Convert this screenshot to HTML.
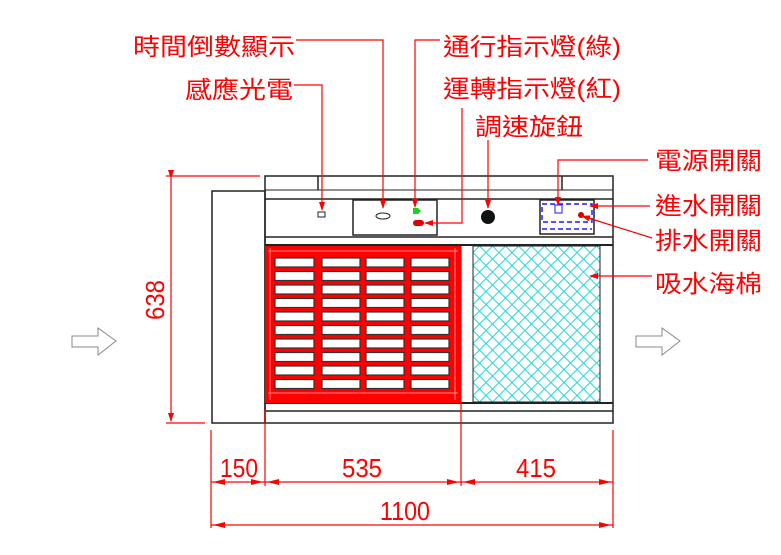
<!DOCTYPE html>
<html><head><meta charset="utf-8"><style>
html,body{margin:0;padding:0;background:#fff;}
svg{display:block;}
.t{font-family:"Liberation Sans","Noto Sans CJK TC",sans-serif;fill:#f00;}
</style></head><body>
<svg width="781" height="555" viewBox="0 0 781 555" xmlns="http://www.w3.org/2000/svg">
<defs>
<pattern id="dia" width="13" height="13" patternUnits="userSpaceOnUse" x="473" y="246">
<path d="M0 6.5L6.5 0L13 6.5L6.5 13Z" fill="none" stroke="#2ad8d8" stroke-width="1"/>
</pattern>
<marker id="ar" markerWidth="9" markerHeight="6" refX="8" refY="3" orient="auto" markerUnits="userSpaceOnUse">
<path d="M0 0L9 3L0 6Z" fill="#f00"/>
</marker>
</defs>
<g stroke="#222" fill="none" stroke-width="1.5">
<rect x="212" y="191" width="53" height="232"/>
<rect x="265" y="176" width="348" height="247"/>
<line x1="318" y1="176" x2="318" y2="190"/>
<line x1="562" y1="176" x2="562" y2="190"/>
<line x1="265" y1="190" x2="613" y2="190" stroke-width="1"/>
<line x1="265" y1="199" x2="613" y2="199"/>
<line x1="265" y1="237" x2="613" y2="237"/>
<line x1="265" y1="245" x2="613" y2="245" stroke-width="2"/>
<line x1="265" y1="403" x2="613" y2="403" stroke-width="2"/>
<line x1="265" y1="411" x2="613" y2="411"/>
<rect x="353" y="200" width="84" height="35"/>
<rect x="540" y="200" width="54" height="34"/>
</g>
<rect x="265" y="246" width="196" height="157" fill="#f00"/>
<g stroke="#ffb0b0" stroke-width="0.8">
<line x1="268" y1="251" x2="458" y2="251"/><line x1="268" y1="393" x2="458" y2="393"/>
<line x1="270" y1="248" x2="270" y2="400"/><line x1="455" y1="248" x2="455" y2="400"/>
</g>
<g fill="#fff" stroke="#333" stroke-width="1.2">
<g id="row">
<rect x="275" y="258" width="39" height="9"/><rect x="322" y="258" width="38" height="9"/><rect x="366" y="258" width="38" height="9"/><rect x="411" y="258" width="38" height="9"/>
</g>
<use href="#row" y="13.5"/><use href="#row" y="27"/><use href="#row" y="40.5"/><use href="#row" y="54"/><use href="#row" y="67.5"/><use href="#row" y="81"/><use href="#row" y="94.5"/><use href="#row" y="108"/><use href="#row" y="121.5"/>
</g>
<rect x="473" y="246" width="127" height="156" fill="url(#dia)" stroke="#222" stroke-width="1"/>
<rect x="318" y="212" width="7" height="5" fill="#fff" stroke="#222"/>
<ellipse cx="383" cy="216" rx="7" ry="3" fill="#fff" stroke="#222"/>
<path d="M413 208h5l3 3-3 3h-5z" fill="#2c2"/>
<rect x="413" y="220" width="11" height="6" rx="3" fill="#d00"/>
<circle cx="488" cy="217" r="7" fill="#111"/>
<g stroke="#1a1aff" stroke-width="1.5" fill="none" stroke-dasharray="5 3">
<rect x="542" y="204" width="50" height="18"/>
<line x1="542" y1="229" x2="592" y2="229"/>
</g>
<rect x="555" y="205" width="7" height="8" fill="none" stroke="#1a1aff"/>
<circle cx="581" cy="215" r="3" fill="#c00"/>
<g stroke="#f00" stroke-width="1.2" fill="none">
<polyline points="296,40 383,40 383,208" marker-end="url(#ar)"/>
<polyline points="294,85 322,85 322,210" marker-end="url(#ar)"/>
<polyline points="440,40 415,40 415,207" marker-end="url(#ar)"/>
<polyline points="462,108 462,223 425,223" marker-end="url(#ar)"/>
<polyline points="488,140 488,208" marker-end="url(#ar)"/>
<polyline points="648,160 558,160 558,205" marker-end="url(#ar)"/>
<polyline points="650,206 590,206" marker-end="url(#ar)"/>
<polyline points="652,238 582,216" marker-end="url(#ar)"/>
<polyline points="652,276 590,276" marker-end="url(#ar)"/>
<line x1="166" y1="176" x2="260" y2="176"/>
<line x1="166" y1="423" x2="205" y2="423"/>
<line x1="171" y1="178" x2="171" y2="421" marker-start="url(#ar)" marker-end="url(#ar)"/>
<line x1="211" y1="430" x2="211" y2="528"/>
<line x1="265" y1="410" x2="265" y2="486"/>
<line x1="461" y1="246" x2="461" y2="486"/>
<line x1="613" y1="430" x2="613" y2="528"/>
<line x1="211" y1="482" x2="613" y2="482"/>
<line x1="211" y1="525" x2="613" y2="525"/>
</g>
<g fill="#f00">
<path d="M213 482l12-3v6z"/><path d="M263 482l-12-3v6z"/>
<path d="M267 482l12-3v6z"/><path d="M459 482l-12-3v6z"/>
<path d="M463 482l12-3v6z"/><path d="M611 482l-12-3v6z"/>
<path d="M213 525l12-3v6z"/><path d="M611 525l-12-3v6z"/>
</g>
<g fill="#fff" stroke="#888" stroke-width="1">
<path d="M72 336h26v-8l18 13-18 14v-8h-26z"/>
<path d="M636 336h26v-8l18 13-18 14v-8h-26z"/>
</g>
<g class="t" font-size="24">
<text x="133" y="55" textLength="162" lengthAdjust="spacingAndGlyphs">時間倒數顯示</text>
<text x="185" y="98" textLength="108" lengthAdjust="spacingAndGlyphs">感應光電</text>
<text x="443" y="55" textLength="178" lengthAdjust="spacingAndGlyphs">通行指示燈(綠)</text>
<text x="443" y="97" textLength="178" lengthAdjust="spacingAndGlyphs">運轉指示燈(紅)</text>
<text x="475" y="135" textLength="108" lengthAdjust="spacingAndGlyphs">調速旋鈕</text>
<text x="655" y="169" textLength="107" lengthAdjust="spacingAndGlyphs">電源開關</text>
<text x="655" y="214" textLength="107" lengthAdjust="spacingAndGlyphs">進水開關</text>
<text x="655" y="249" textLength="107" lengthAdjust="spacingAndGlyphs">排水開關</text>
<text x="655" y="292" textLength="107" lengthAdjust="spacingAndGlyphs">吸水海棉</text>
</g>
<g class="t" font-size="26">
<text x="220" y="477" textLength="38" lengthAdjust="spacingAndGlyphs">150</text>
<text x="342" y="477" textLength="40" lengthAdjust="spacingAndGlyphs">535</text>
<text x="516" y="477" textLength="40" lengthAdjust="spacingAndGlyphs">415</text>
<text x="380" y="520" textLength="50" lengthAdjust="spacingAndGlyphs">1100</text>
<text transform="translate(164,320) rotate(-90)" textLength="40" lengthAdjust="spacingAndGlyphs">638</text>
</g>
</svg>
</body></html>
